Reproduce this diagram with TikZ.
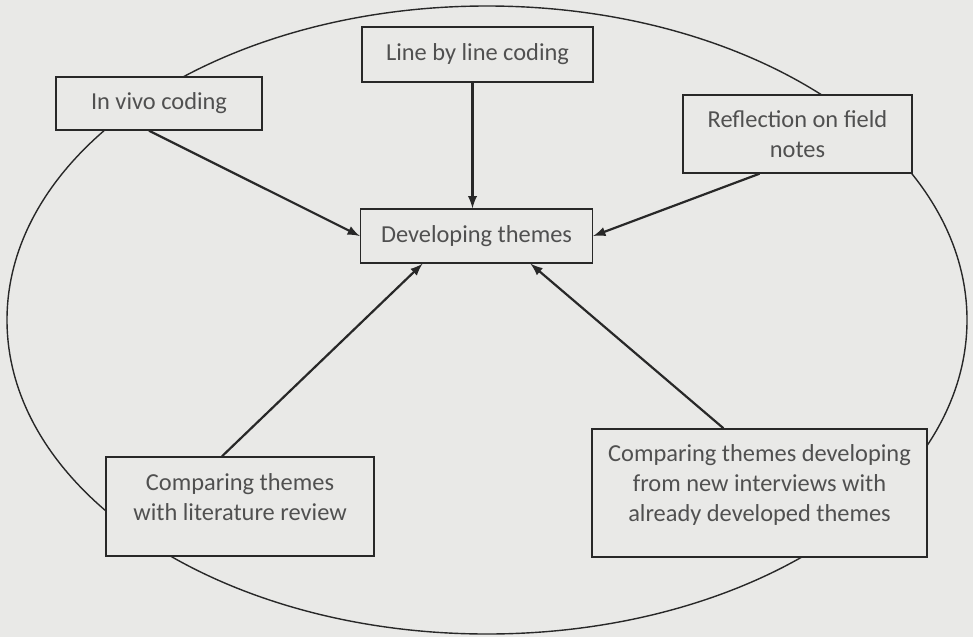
\documentclass[tikz,border=0pt]{standalone}
\usepackage{fontspec}
\setmainfont{Carlito}
\usetikzlibrary{arrows}

\definecolor{paper}{RGB}{233,233,231}
\definecolor{ink}{RGB}{40,40,40}
\definecolor{print}{RGB}{80,80,80}
% pushes the lines of a box upwards
\newcommand{\liftup}[1]{\rule[-#1]{0pt}{#1}}

\begin{document}
\begin{tikzpicture}[x=0.5pt,y=-0.5pt]
\tikzset{every node/.style={font=\fontsize{12.2}{15}\selectfont}}
\tikzset{themebox/.style={draw=ink, line width=0.7pt, fill=paper, text=print, inner sep=0pt, align=center}}
\tikzset{feed/.style={draw=ink, line width=1.1pt, -latex}}
\fill[paper] (0,0) rectangle (973,637);
\useasboundingbox (0,0) rectangle (973,637);
\draw[ink, line width=0.7pt] (487,320) ellipse [x radius=480, y radius=314];
\node (vivo) [themebox, minimum width=103pt, minimum height=26.5pt] at (159,103.5) {In vivo coding};
\node (linecode) [themebox, minimum width=115.5pt, minimum height=27.5pt] at (477.5,54.5) {Line by line coding};
\node (field) [themebox, minimum width=114.5pt, minimum height=39pt] at (797.5,134) {Reflection on field\\notes};
\node (themes) [themebox, minimum width=116pt, minimum height=27pt] at (476.5,236) {Developing themes};
\node (litrev) [themebox, minimum width=134pt, minimum height=49.5pt] at (240,506.5) {Comparing themes\\with literature review\liftup{9pt}};
\node (newint) [themebox, minimum width=167.5pt, minimum height=64pt] at (759.5,493) {Comparing themes developing\\from new interviews with\\already developed themes\liftup{10.3pt}};
\draw[feed] ([xshift=-5pt]vivo.south) -- (themes.west);
\draw[feed] ([xshift=-2.5pt]linecode.south) -- ([xshift=-2pt]themes.north);
\draw[feed] ([xshift=-19pt]field.south) -- (themes.east);
\draw[feed] ([xshift=-9pt]litrev.north) -- ([xshift=-27pt]themes.south);
\draw[feed] ([xshift=-18pt]newint.north) -- ([xshift=27pt]themes.south);
\end{tikzpicture}
\end{document}
